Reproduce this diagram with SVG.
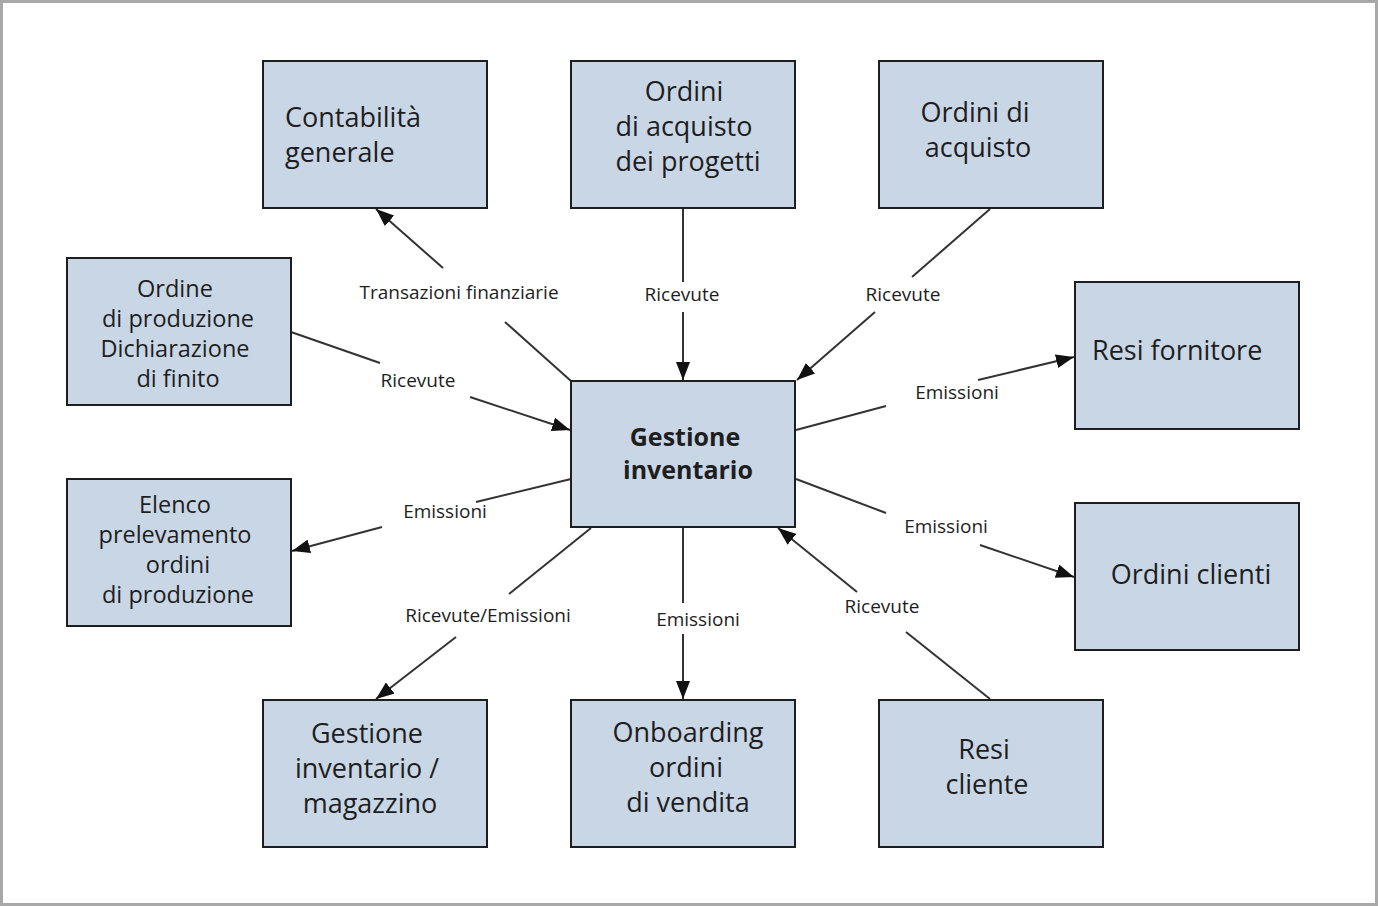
<svg xmlns="http://www.w3.org/2000/svg" width="1378" height="906" viewBox="0 0 1378 906">
<defs>
<style>
.frame{fill:#fff;stroke:#a8a8a8;stroke-width:3}
.box{fill:#c9d6e6;stroke:#1e1e1e;stroke-width:2}
.t{font-family:"Open Sans","Noto Sans",sans-serif;font-size:27px;fill:#1e1e1e}
.s{font-family:"Open Sans","Noto Sans",sans-serif;font-size:23.5px;fill:#1e1e1e}
.b{font-family:"Open Sans","Noto Sans",sans-serif;font-size:25px;font-weight:bold;fill:#1e1e1e}
.l{font-family:"Open Sans","Noto Sans",sans-serif;font-size:19px;fill:#1e1e1e}
.c{fill:none;stroke:#333;stroke-width:2}
.m{text-anchor:middle}
</style>
<marker id="ah" viewBox="0 0 18 14" refX="18" refY="7" markerWidth="18" markerHeight="14" markerUnits="userSpaceOnUse" orient="auto">
<path d="M0,0 L18,7 L0,14 z" fill="#111"/>
</marker>
</defs>
<rect class="frame" x="1.5" y="1.5" width="1375" height="903"/>

<g id="connectors">
<line class="c" x1="571" y1="381" x2="505" y2="322"/>
<line class="c" x1="443" y1="268" x2="376" y2="209" marker-end="url(#ah)"/>
<text class="l m" x="459" y="299">Transazioni finanziarie</text>

<line class="c" x1="683" y1="209" x2="683" y2="282"/>
<line class="c" x1="683" y1="312" x2="683" y2="380" marker-end="url(#ah)"/>
<text class="l m" x="682" y="301">Ricevute</text>

<line class="c" x1="990" y1="209" x2="912" y2="277"/>
<line class="c" x1="875" y1="312" x2="797" y2="380" marker-end="url(#ah)"/>
<text class="l m" x="903" y="301">Ricevute</text>

<line class="c" x1="291" y1="332" x2="380" y2="363"/>
<line class="c" x1="470" y1="397" x2="570" y2="430" marker-end="url(#ah)"/>
<text class="l m" x="418" y="387">Ricevute</text>

<line class="c" x1="796" y1="430" x2="886" y2="406"/>
<line class="c" x1="978" y1="380" x2="1074" y2="357" marker-end="url(#ah)"/>
<text class="l m" x="957" y="399">Emissioni</text>

<line class="c" x1="571" y1="479" x2="476" y2="502"/>
<line class="c" x1="382" y1="527" x2="292" y2="551" marker-end="url(#ah)"/>
<text class="l m" x="445" y="518">Emissioni</text>

<line class="c" x1="796" y1="479" x2="886" y2="513"/>
<line class="c" x1="980" y1="545" x2="1074" y2="577" marker-end="url(#ah)"/>
<text class="l m" x="946" y="533">Emissioni</text>

<line class="c" x1="591" y1="528" x2="509" y2="594"/>
<line class="c" x1="456" y1="637" x2="376" y2="699" marker-end="url(#ah)"/>
<text class="l m" x="488" y="622">Ricevute/Emissioni</text>

<line class="c" x1="683" y1="528" x2="683" y2="603"/>
<line class="c" x1="683" y1="634" x2="683" y2="699" marker-end="url(#ah)"/>
<text class="l m" x="698" y="626">Emissioni</text>

<line class="c" x1="990" y1="699" x2="906" y2="632"/>
<line class="c" x1="857" y1="592" x2="778" y2="528" marker-end="url(#ah)"/>
<text class="l m" x="882" y="613">Ricevute</text>
</g>

<g id="n-contabilita">
<rect class="box" x="263" y="61" width="224" height="147"/>
<text class="t" x="285" y="127">Contabilità</text>
<text class="t" x="285" y="162">generale</text>
</g>
<g id="n-oda-progetti">
<rect class="box" x="571" y="61" width="224" height="147"/>
<text class="t m" x="684" y="101">Ordini</text>
<text class="t m" x="684" y="136">di acquisto</text>
<text class="t m" x="688" y="171">dei progetti</text>
</g>
<g id="n-oda">
<rect class="box" x="879" y="61" width="224" height="147"/>
<text class="t m" x="975" y="122">Ordini di</text>
<text class="t m" x="978" y="157">acquisto</text>
</g>
<g id="n-ordine-produzione">
<rect class="box" x="67" y="258" width="224" height="147"/>
<text class="s m" x="175" y="297">Ordine</text>
<text class="s m" x="178" y="327">di produzione</text>
<text class="s m" x="175" y="357">Dichiarazione</text>
<text class="s m" x="178" y="387">di finito</text>
</g>
<g id="n-resi-fornitore">
<rect class="box" x="1075" y="282" width="224" height="147"/>
<text class="t" x="1092" y="360">Resi fornitore</text>
</g>
<g id="n-gestione-inventario">
<rect class="box" x="571" y="381" width="224" height="146"/>
<text class="b m" x="685" y="446">Gestione</text>
<text class="b m" x="688" y="479">inventario</text>
</g>
<g id="n-elenco">
<rect class="box" x="67" y="479" width="224" height="147"/>
<text class="s m" x="175" y="513">Elenco</text>
<text class="s m" x="175" y="543">prelevamento</text>
<text class="s m" x="178" y="573">ordini</text>
<text class="s m" x="178" y="603">di produzione</text>
</g>
<g id="n-ordini-clienti">
<rect class="box" x="1075" y="503" width="224" height="147"/>
<text class="t m" x="1191" y="584">Ordini clienti</text>
</g>
<g id="n-magazzino">
<rect class="box" x="263" y="700" width="224" height="147"/>
<text class="t m" x="367" y="743">Gestione</text>
<text class="t m" x="367" y="778">inventario /</text>
<text class="t m" x="370" y="813">magazzino</text>
</g>
<g id="n-onboarding">
<rect class="box" x="571" y="700" width="224" height="147"/>
<text class="t m" x="688" y="742">Onboarding</text>
<text class="t m" x="686" y="777">ordini</text>
<text class="t m" x="688" y="812">di vendita</text>
</g>
<g id="n-resi-cliente">
<rect class="box" x="879" y="700" width="224" height="147"/>
<text class="t m" x="984" y="759">Resi</text>
<text class="t m" x="987" y="794">cliente</text>
</g>
</svg>
